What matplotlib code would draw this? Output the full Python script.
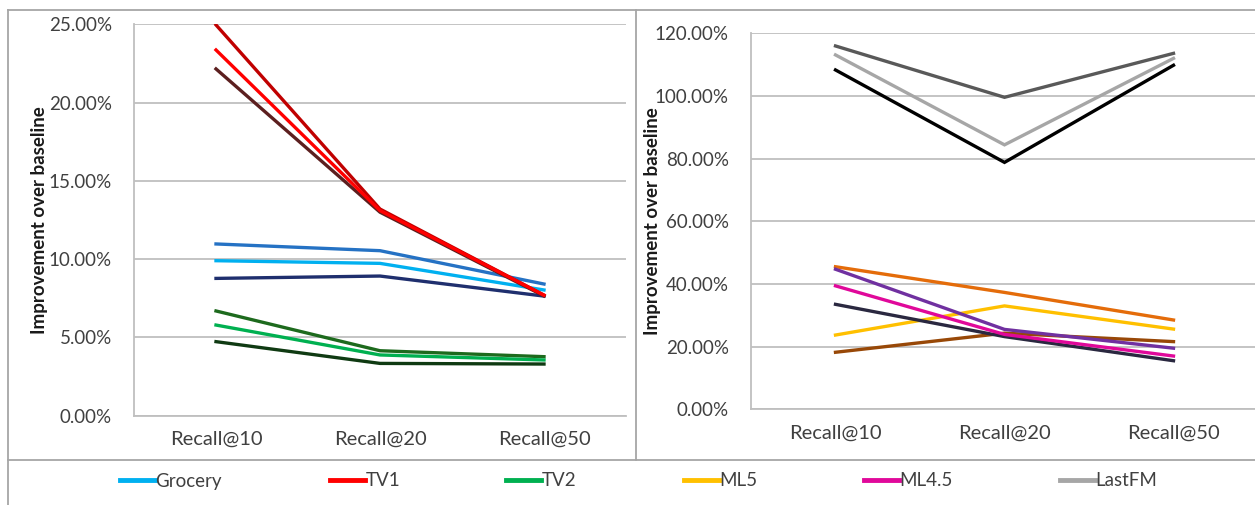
import matplotlib
matplotlib.use("Agg")
import matplotlib.pyplot as plt
from matplotlib.lines import Line2D
from matplotlib.ticker import FuncFormatter

plt.rcParams['font.family'] = ['Lato', 'DejaVu Sans']

categories = ["Recall@10", "Recall@20", "Recall@50"]

# Left panel series (improvement %)
left_series = {
    "Grocery_a": [10.97, 10.54, 8.41],
    "Grocery":   [9.90, 9.73, 8.03],
    "Grocery_c": [8.77, 8.92, 7.64],
    "TV2_a":     [6.69, 4.15, 3.77],
    "TV2":       [5.79, 3.88, 3.56],
    "TV2_c":     [4.73, 3.34, 3.30],
    "TV1_c":     [22.15, 13.00, 7.65],
    "TV1_a":     [24.96, 13.20, 7.70],
    "TV1":       [23.36, 13.10, 7.70],
}
left_colors = {
    "Grocery_a": "#2572c4", "Grocery": "#00b0f0", "Grocery_c": "#1f2f6e",
    "TV2_a": "#1d6a1d", "TV2": "#00b050", "TV2_c": "#0f3a12",
    "TV1_c": "#5c1f1f", "TV1_a": "#c00000", "TV1": "#ff0000",
}

# Right panel series (improvement %)
right_series = {
    "ML5_b":    [18.2, 24.3, 21.6],
    "ML5":      [23.7, 33.0, 25.6],
    "ML5_a":    [45.5, 37.3, 28.5],
    "ML4.5_c":  [33.5, 23.2, 15.5],
    "ML4.5_a":  [44.7, 25.5, 19.5],
    "ML4.5":    [39.4, 23.9, 17.0],
    "LastFM_a": [115.96, 99.57, 113.6],
    "LastFM":   [113.1, 84.4, 112.0],
    "LastFM_c": [108.3, 78.8, 109.8],
}
right_colors = {
    "ML5_b": "#984807", "ML5": "#ffc000", "ML5_a": "#e46c0a",
    "ML4.5_c": "#2a2840", "ML4.5_a": "#7030a0", "ML4.5": "#e0089a",
    "LastFM_a": "#595959", "LastFM": "#a6a6a6", "LastFM_c": "#000000",
}

legend_labels = ["Grocery", "TV1", "TV2", "ML5", "ML4.5", "LastFM"]
legend_colors = ["#00b0f0", "#ff0000", "#00b050", "#ffc000", "#e0089a", "#a6a6a6"]

W, H = 1255, 505
fig = plt.figure(figsize=(W / 100, H / 100), dpi=100)

def fx(px):
    return px / W

def fy(py):
    return 1 - py / H

def setup(ax, ymax, step):
    xs = [0.5, 1.5, 2.5]
    ax.set_xlim(0, 3)
    ax.set_ylim(0, ymax)
    ax.set_xticks(xs)
    ax.set_xticklabels(categories, fontsize=14.5, color="#404040")
    ticks = [i * step for i in range(int(round(ymax / step)) + 1)]
    ax.set_yticks(ticks)
    ax.yaxis.set_major_formatter(FuncFormatter(lambda v, p: f"{v:.2f}%"))
    ax.tick_params(axis="y", length=0, pad=16, labelsize=13.5, labelcolor="#404040")
    ax.tick_params(axis="x", length=0, pad=11)
    for s in ["top", "right"]:
        ax.spines[s].set_visible(False)
    for s in ["left", "bottom"]:
        ax.spines[s].set_color("#bfbfbf")
        ax.spines[s].set_linewidth(1.3)
    ax.grid(axis="y", color="#bfbfbf", linewidth=1.3)
    ax.set_axisbelow(True)
    ax.set_ylabel("Improvement over baseline", fontsize=13.5, fontweight="bold",
                  color="#1a1a1a")
    return xs

# Left axes
axL = fig.add_axes([fx(134), fy(415.7), fx(626 - 134), fy(24.3) - fy(415.7)])
xs = setup(axL, 25, 5)
for k, v in left_series.items():
    axL.plot(xs, v, color=left_colors[k], lw=2.4, solid_joinstyle="miter")
axL.yaxis.set_label_coords((48 - 134) / (626 - 134), 0.5)

# Right axes
axR = fig.add_axes([fx(751), fy(409.3), fx(1258 - 751), fy(33.3) - fy(409.3)])
xs = setup(axR, 120, 20)
for k, v in right_series.items():
    axR.plot(xs, v, color=right_colors[k], lw=2.4, solid_joinstyle="miter")
axR.yaxis.set_label_coords((661 - 751) / (1258 - 751), 0.5)

# Frame lines
frame_kw = dict(color="#a6a6a6", lw=1.3, transform=fig.transFigure)
fig.add_artist(Line2D([fx(8), 1], [fy(10), fy(10)], **frame_kw))
fig.add_artist(Line2D([fx(8), fx(8)], [fy(10), 0], **frame_kw))
fig.add_artist(Line2D([fx(636), fx(636)], [fy(10), fy(460)], **frame_kw))
fig.add_artist(Line2D([fx(8), 1], [fy(460), fy(460)], **frame_kw))

# Legend entries
legend_x = [120, 330, 506, 684, 864, 1060]
for lbl, col, x in zip(legend_labels, legend_colors, legend_x):
    h = Line2D([], [], color=col, lw=3.5)
    lg = fig.legend([h], [lbl], loc="center left",
                    bbox_to_anchor=(fx(x), fy(481)),
                    frameon=False, handlelength=1.85, handletextpad=0.05,
                    fontsize=13.5, borderaxespad=0, borderpad=0)
    for t in lg.get_texts():
        t.set_color("#404040")

fig.savefig("out.png", dpi=100)
